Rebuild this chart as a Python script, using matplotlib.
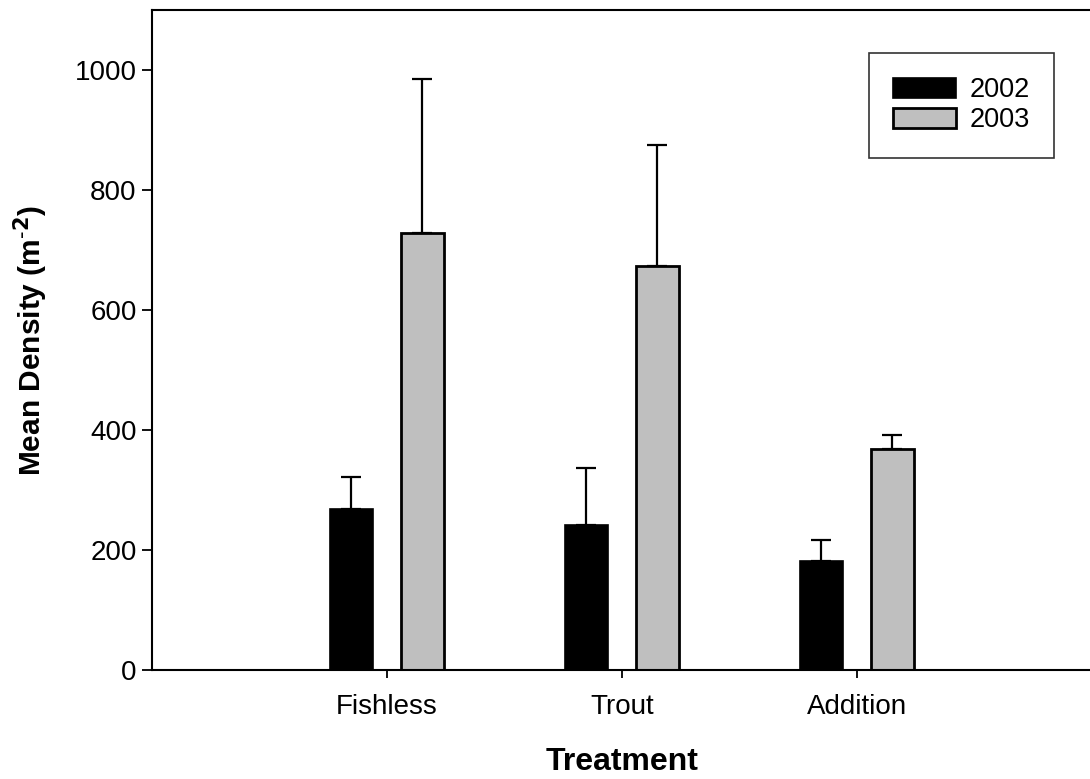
import matplotlib.pyplot as plt
import numpy as np

plt.rcParams['font.family'] = ['Liberation Sans', 'DejaVu Sans']

# Data
treatments = ['Fishless', 'Trout', 'Addition']
years = ['2002', '2003']
mean_2002 = [268, 242, 182]
mean_2003 = [728, 673, 369]
se_2002 = [54, 94, 35]
se_2003 = [257, 202, 22]

fig = plt.figure(figsize=(10.9, 7.79), dpi=100)
ax = fig.add_axes([0.1394, 0.1399, 0.8624, 0.847])

x = np.arange(1, len(treatments) + 1)
w = 0.183
off = 0.151

ax.bar(x - off, mean_2002, w, color='black', edgecolor='black', linewidth=1.2, label=years[0], zorder=2)
ax.bar(x + off, mean_2003, w, color='#bfbfbf', edgecolor='black', linewidth=2.0, label=years[1], zorder=2)

ax.errorbar(x - off, mean_2002, yerr=[np.zeros(3), se_2002], fmt='none', ecolor='black',
            elinewidth=1.6, capsize=7.5, capthick=1.6, zorder=1)
ax.errorbar(x + off, mean_2003, yerr=[np.zeros(3), se_2003], fmt='none', ecolor='black',
            elinewidth=1.6, capsize=7.5, capthick=1.6, zorder=1)

ax.set_xlim(0, 4)
ax.set_ylim(0, 1100)
ax.set_xticks(x)
ax.set_xticklabels(treatments, fontsize=20)
ax.set_yticks(range(0, 1001, 200))
ax.tick_params(axis='y', labelsize=20, direction='out', length=7, width=1.3, pad=4)
ax.tick_params(axis='x', direction='out', length=6, width=1.3, pad=11)

ax.spines['right'].set_visible(False)
for s in ['left', 'top', 'bottom']:
    ax.spines[s].set_linewidth(1.5)

ax.set_xlabel('Treatment', fontsize=23, fontweight='bold', labelpad=20)
ax.set_ylabel('Mean Density (m$^{\\mathbf{\\text{-}2}}$)', fontsize=21.5, fontweight='bold', labelpad=18)

leg = ax.legend(loc='upper right', bbox_to_anchor=(0.967, 0.932), bbox_transform=fig.transFigure,
                fontsize=19.5, frameon=True, fancybox=False, edgecolor='black', borderaxespad=0,
                handlelength=2.3, handleheight=0.74, borderpad=0.9, labelspacing=0.15,
                handletextpad=0.5)
leg.get_frame().set_linewidth(1.2)

plt.savefig('out.png', dpi=100)
